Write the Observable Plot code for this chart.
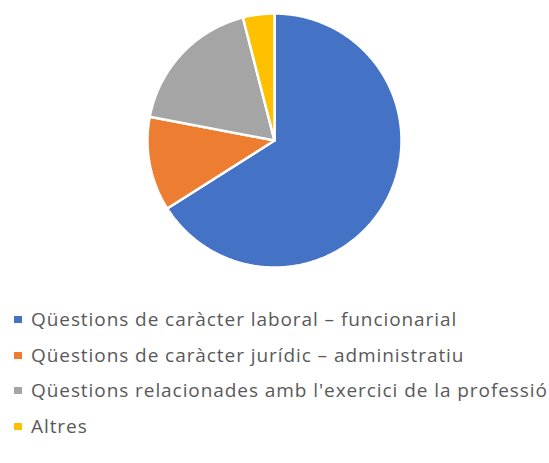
<!DOCTYPE html>
<html>
<head>
<meta charset="utf-8">
<script src="https://cdn.jsdelivr.net/npm/d3@7"></script>
<script src="https://cdn.jsdelivr.net/npm/@observablehq/plot@0.6"></script>
<style>
  html, body { margin: 0; padding: 0; background: #fff; }
  #chart { width: 549px; }
  .legend { padding-top: 22px; padding-left: 14px; font-family: "Open Sans", sans-serif; font-size: 19px; letter-spacing: 0.93px; color: #595959; }
  .legend .item { height: 35.5px; line-height: 35.5px; white-space: nowrap; display: flex; align-items: center; }
  .legend .sw { width: 8px; height: 7px; margin-right: 9px; flex: none; }
</style>
</head>
<body>
<div id="chart"></div>
<script>
const categories = [
  "Qüestions de caràcter laboral – funcionarial",
  "Qüestions de caràcter jurídic – administratiu",
  "Qüestions relacionades amb l'exercici de la professió",
  "Altres"
];
const values = [66, 12, 18, 4];
const colors = ["#4472C4", "#ED7D31", "#A5A5A5", "#FFC000"];

const table = categories.map((c, i) => ({cat: c, value: values[i]}));
const arcs = d3.pie().sort(null).value(d => d.value)(table);
const pts = [];
for (const a of arcs) {
  const n = Math.max(2, Math.ceil((a.endAngle - a.startAngle) / 0.01));
  pts.push({cat: a.data.cat, x: 0, y: 0});
  for (let k = 0; k <= n; k++) {
    const t = a.startAngle + (a.endAngle - a.startAngle) * k / n;
    pts.push({cat: a.data.cat, x: Math.sin(t), y: Math.cos(t)});
  }
  pts.push({cat: a.data.cat, x: 0, y: 0});
}

const W = 549, H = 280, cx = 274, cy = 140, r = 127;
const plot = Plot.plot({
  width: W, height: H,
  margin: 0,
  x: {domain: [-cx / r, (W - cx) / r], range: [0, W], axis: null},
  y: {domain: [-(H - cy) / r, cy / r], range: [H, 0], axis: null},
  color: {domain: categories, range: colors},
  marks: [
    Plot.line(pts, {x: "x", y: "y", z: "cat", fill: "cat", stroke: "white", strokeWidth: 2.5, strokeLinejoin: "miter", curve: "linear"})
  ]
});
document.getElementById("chart").appendChild(plot);

const legend = document.createElement("div");
legend.className = "legend";
categories.forEach((c, i) => {
  const it = document.createElement("div");
  it.className = "item";
  const sw = document.createElement("span");
  sw.className = "sw";
  sw.style.background = colors[i];
  it.appendChild(sw);
  it.appendChild(document.createTextNode(c));
  legend.appendChild(it);
});
document.getElementById("chart").appendChild(legend);
</script>
</body>
</html>
